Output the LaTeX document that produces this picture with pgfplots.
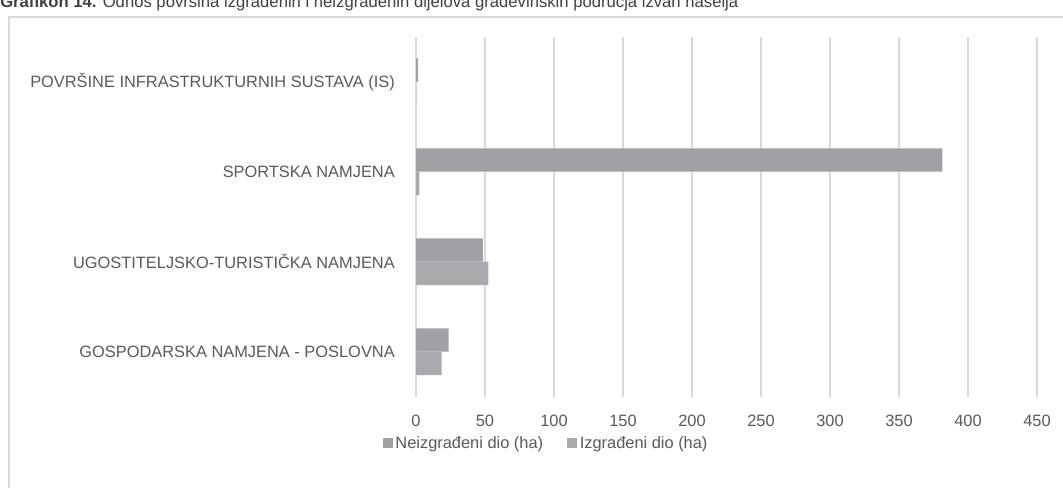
\documentclass[border=0pt]{standalone}
\usepackage{pgfplots}
\pgfplotsset{compat=1.18}
\usepackage{fontspec}
\setmainfont{Liberation Sans}
\definecolor{barA}{RGB}{160,161,165}
\definecolor{barB}{RGB}{169,170,174}
\definecolor{txt}{RGB}{89,89,89}
\definecolor{titlecol}{RGB}{64,64,64}
\definecolor{gridc}{RGB}{217,217,217}
\begin{document}
\begin{tikzpicture}[x=0.75pt,y=0.75pt]
\useasboundingbox (0,0) rectangle (1063,-488);
\clip (0,0) rectangle (1063,-488);
\node[anchor=base west, inner sep=0pt, text=titlecol, font=\fontsize{12.5}{14}\selectfont] at (0,-7.3) {\textbf{Grafikon 14.} Odnos površina izgrađenih i neizgrađenih dijelova građevinskih područja izvan naselja};
\draw[gridc, line width=1.1pt] (9,-17) rectangle (1100,-530);
\begin{axis}[
  at={(312pt,-297.5pt)}, anchor=south west,
  scale only axis, width=465.75pt, height=270pt,
  xmin=0, xmax=450, ymin=-0.5, ymax=3.5,
  xbar, bar width=0.26,
  xtick={0,50,...,450}, ytick={0,1,2,3},
  yticklabels={GOSPODARSKA NAMJENA - POSLOVNA, UGOSTITELJSKO-TURISTIČKA NAMJENA, SPORTSKA NAMJENA, POVRŠINE INFRASTRUKTURNIH SUSTAVA (IS)},
  xmajorgrids, major grid style={gridc, line width=1.1pt},
  axis line style={draw=none}, major tick length=0pt,
  tick label style={font=\fontsize{12.3}{14}\selectfont, text=txt},
  /pgf/number format/assume math mode=true,
  xticklabel style={anchor=center, inner sep=0pt, yshift=-18.4pt},
  yticklabel style={anchor=east, inner sep=0pt, xshift=-15.75pt},
  legend style={at={(axis description cs:0.2101,-0.13)}, anchor=center, draw=none, fill=none,
    legend columns=2, font=\fontsize{12.3}{14}\selectfont, text=txt,
    /tikz/every even column/.append style={column sep=16pt}},
  legend image code/.code={\fill[#1] (0pt,-3.75pt) rectangle (7.5pt,3.75pt);},
]
\addplot[fill=barA, draw=none, bar shift=0.13] coordinates {(23.6,0) (48.5,1) (381.4,2) (1.5,3)};
\addplot[fill=barB, draw=none, bar shift=-0.13] coordinates {(18.6,0) (52.4,1) (2.5,2) (0,3)};
\legend{Neizgrađeni dio (ha), Izgrađeni dio (ha)}
\end{axis}
\end{tikzpicture}
\end{document}
